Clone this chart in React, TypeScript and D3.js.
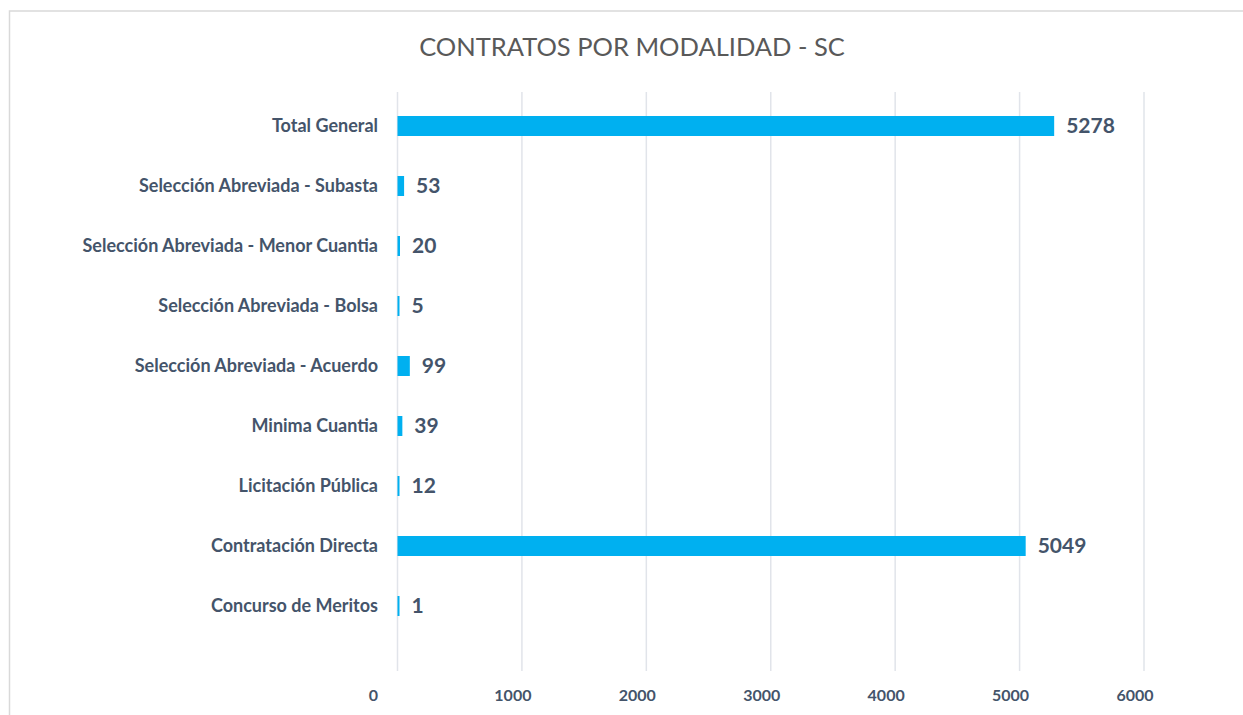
import React from "react";
import * as d3 from "d3";

const categories = [
  "Total General",
  "Selección Abreviada - Subasta",
  "Selección Abreviada - Menor Cuantia",
  "Selección Abreviada - Bolsa",
  "Selección Abreviada - Acuerdo",
  "Minima Cuantia",
  "Licitación Pública",
  "Contratación Directa",
  "Concurso de Meritos",
];
const values = [5278, 53, 20, 5, 99, 39, 12, 5049, 1];
const xTicks = [0, 1000, 2000, 3000, 4000, 5000, 6000];
const title = "CONTRATOS POR MODALIDAD - SC";

const W = 1243;
const H = 715;
const FONT = "Lato, 'Open Sans', sans-serif";
const TEXT = "#44546A";

export default function App() {
  const x = d3.scaleLinear().domain([0, 6000]).range([397.5, 1144]);
  const y = d3.scaleBand<string>().domain(categories).range([96, 636]).paddingInner(0.66).paddingOuter(0.33);
  const bw = 20;
  const yc = (c: string) => (y(c) as number) + y.bandwidth() / 2;

  return (
    <svg width={W} height={H} style={{ position: "absolute", left: 0, top: 0, background: "#fff" }}>
      <rect x={9.5} y={11} width={W + 20} height={H + 20} fill="#fff" stroke="#D9D9D9" strokeWidth={1.5} />
      <text x={632} y={56} textAnchor="middle" fontFamily={FONT} fontSize={25.5} fill="#595959">
        {title}
      </text>
      {xTicks.map((t) => (
        <line key={"g" + t} x1={x(t)} x2={x(t)} y1={92} y2={671} stroke="#E1E4EA" strokeWidth={1.5} />
      ))}
      {xTicks.map((t) => (
        <text key={"t" + t} x={x(t) - 9 - (t === 0 ? 15 : 0)} y={701} textAnchor="middle" fontFamily={FONT} fontWeight={700} fontSize={16} fill={TEXT}>
          {t}
        </text>
      ))}
      {categories.map((c, i) => {
        const v = values[i];
        const w = Math.max(2, x(v) - x(0));
        return (
          <g key={c}>
            <rect x={x(0)} y={yc(c) - bw / 2} width={w} height={bw} fill="#00B0F0" />
            <text x={378} y={yc(c) + 6} textAnchor="end" fontFamily={FONT} fontWeight={700} fontSize={18} fill={TEXT}>
              {c}
            </text>
            <text x={x(0) + w + 12} y={yc(c) + 7} fontFamily={FONT} fontWeight={700} fontSize={21} fill={TEXT}>
              {v}
            </text>
          </g>
        );
      })}
    </svg>
  );
}
